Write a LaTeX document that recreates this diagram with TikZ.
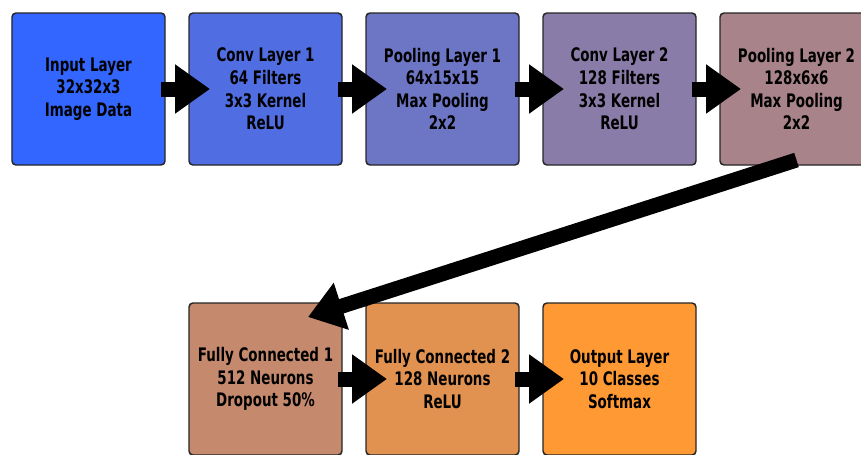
\documentclass[tikz,border=0pt]{standalone}
\usepackage{fontspec}
\setmainfont{DejaVu Sans}[FakeStretch=0.72]
\usetikzlibrary{positioning,arrows.meta}

% layer colours, blue to orange
\definecolor{inputc}{HTML}{3366FF}
\definecolor{convac}{HTML}{506DE2}
\definecolor{poolac}{HTML}{6D75C5}
\definecolor{convbc}{HTML}{8A7CA8}
\definecolor{poolbc}{HTML}{A8838A}
\definecolor{fcac}{HTML}{C58A6D}
\definecolor{fcbc}{HTML}{E29250}
\definecolor{outc}{HTML}{FF9933}

\begin{document}
\begin{tikzpicture}[
    layer/.style={draw=black!85, line width=1.1pt, rounded corners=3pt,
        minimum width=114.75pt, minimum height=114pt, inner sep=0pt, outer sep=0pt,
        align=center, font=\fontsize{14pt}{16.9pt}\selectfont\bfseries},
    flow/.style={line width=11.25pt, -{Triangle[length=26.25pt, width=35.25pt]}}
]
    % page size
    \clip (-66.375pt, 66.75pt) rectangle (579.375pt, -273.75pt);

    % first row: feature extraction
    \node[layer, fill=inputc] (input) at (0, 0) {Input Layer\\32x32x3\\Image Data};
    \node[layer, fill=convac, right=18pt of input] (conv1) {Conv Layer 1\\64 Filters\\3x3 Kernel\\ReLU};
    \node[layer, fill=poolac, right=18pt of conv1] (pool1) {Pooling Layer 1\\64x15x15\\Max Pooling\\2x2};
    \node[layer, fill=convbc, right=18pt of pool1] (conv2) {Conv Layer 2\\128 Filters\\3x3 Kernel\\ReLU};
    \node[layer, fill=poolbc, right=18pt of conv2] (pool2) {Pooling Layer 2\\128x6x6\\Max Pooling\\2x2};

    % second row: classifier
    \node[layer, fill=fcac, below=103.5pt of conv1] (fc1) {Fully Connected 1\\512 Neurons\\Dropout 50\%};
    \node[layer, fill=fcbc, right=18pt of fc1] (fc2) {Fully Connected 2\\128 Neurons\\ReLU};
    \node[layer, fill=outc, right=18pt of fc2] (output) {Output Layer\\10 Classes\\Softmax};

    % arrows between the layers
    \draw[flow] ([xshift=-3pt]input.east) -- ([xshift=15.75pt]conv1.west);
    \draw[flow] ([xshift=-3pt]conv1.east) -- ([xshift=15.75pt]pool1.west);
    \draw[flow] ([xshift=-3pt]pool1.east) -- ([xshift=15.75pt]conv2.west);
    \draw[flow] ([xshift=-3pt]conv2.east) -- ([xshift=15.75pt]pool2.west);
    \draw[flow] ([yshift=3.75pt]pool2.south) -- ([shift={(-25.5pt,-10.5pt)}]fc1.north east);
    \draw[flow] ([xshift=-3pt]fc1.east) -- ([xshift=15.75pt]fc2.west);
    \draw[flow] ([xshift=-3pt]fc2.east) -- ([xshift=15.75pt]output.west);
\end{tikzpicture}
\end{document}
